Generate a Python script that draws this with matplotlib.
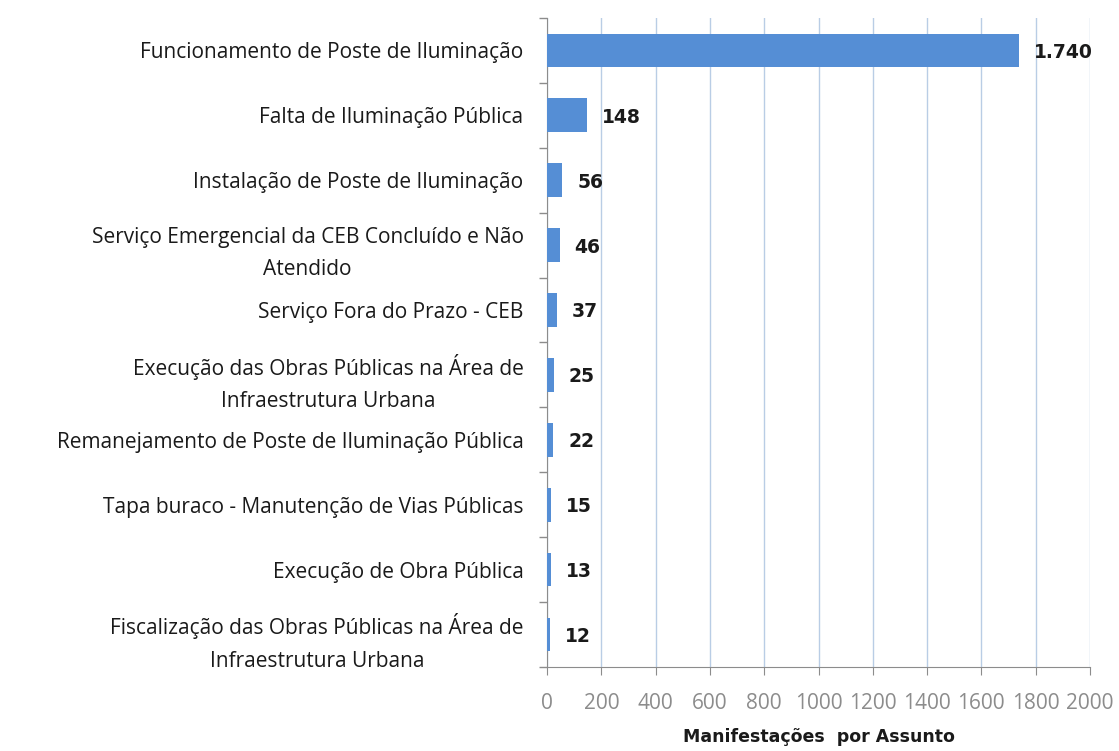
import numpy as np
import matplotlib
matplotlib.use('Agg')
from matplotlib import pyplot as plt

assuntos = [
    "Funcionamento de Poste de Iluminação",
    "Falta de Iluminação Pública",
    "Instalação de Poste de Iluminação",
    "Serviço Emergencial da CEB Concluído e Não\nAtendido",
    "Serviço Fora do Prazo - CEB",
    "Execução das Obras Públicas na Área de\nInfraestrutura Urbana",
    "Remanejamento de Poste de Iluminação Pública",
    "Tapa buraco - Manutenção de Vias Públicas",
    "Execução de Obra Pública",
    "Fiscalização das Obras Públicas na Área de\nInfraestrutura Urbana",
]
valores = [1740, 148, 56, 46, 37, 25, 22, 15, 13, 12]
rotulos = ["1.740", "148", "56", "46", "37", "25", "22", "15", "13", "12"]
xticks = list(range(0, 2001, 200))

plt.rcParams['font.family'] = ['Open Sans', 'DejaVu Sans']
negrito = ['DejaVu Sans']

fig = plt.figure(figsize=(11.19, 7.51), dpi=100)
ax = fig.add_axes([0.489, 0.112, 0.485, 0.864])

y = np.arange(len(valores))
ax.barh(y, valores, height=0.52, color='#558ed5', zorder=3)
for yi, v, r in zip(y, valores, rotulos):
    ax.text(v + 55, yi + 0.03, r, va='center', ha='left', fontsize=13.5,
            fontweight='bold', family=negrito, color='#1a1a1a', zorder=4)

ax.set_ylim(len(valores) - 0.5, -0.5)
ax.set_xlim(0, 2000)
ax.set_xticks(xticks)
ax.set_xticklabels([str(t) for t in xticks], color='#8c8c8c', fontsize=15)
ax.set_yticks(y)
ax.set_yticklabels(assuntos, fontsize=15, color='#1a1a1a',
                   multialignment='center', linespacing=1.7)
ax.tick_params(axis='y', length=0, pad=17)
ax.set_yticks(np.arange(-0.5, len(valores)), minor=True)
ax.tick_params(axis='y', which='minor', length=6, color='#8c8c8c', width=1)
ax.tick_params(axis='x', length=6, color='#8c8c8c', pad=13)

ax.grid(axis='x', color='#b9cde5', linewidth=1, zorder=0)
for s in ['top', 'right']:
    ax.spines[s].set_visible(False)
ax.spines['left'].set_color('#8c8c8c')
ax.spines['bottom'].set_color('#8c8c8c')

ax.set_xlabel("Manifestações  por Assunto", fontsize=12.5, fontweight='bold',
              family=negrito, color='#1a1a1a', labelpad=10)

fig.savefig('out.png', dpi=100)
